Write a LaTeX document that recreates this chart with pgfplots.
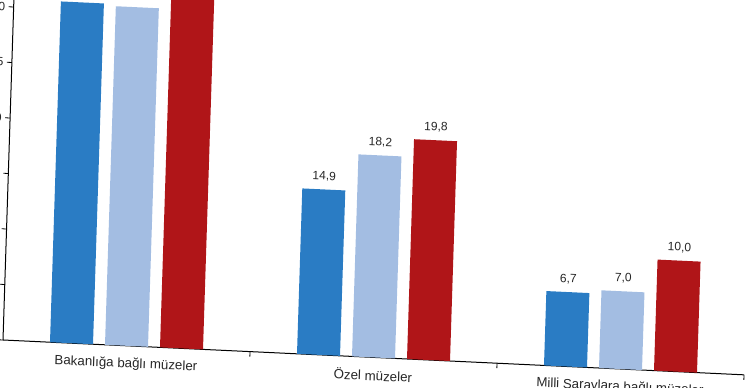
\documentclass[border=0pt]{standalone}
\usepackage{fontspec}
\setmainfont{Liberation Sans}
\usepackage{pgfplots}
\pgfplotsset{compat=1.18}
\definecolor{cA}{HTML}{2A7CC4}
\definecolor{cB}{HTML}{A3BDE2}
\definecolor{cC}{HTML}{B01518}
\begin{document}
\begin{tikzpicture}
\begin{scope}[transform canvas={cm={1,-0.047,0.032,1,(0pt,0pt)}}]
\begin{axis}[
  at={(0pt,0pt)}, anchor=south west,
  scale only axis, width=741pt, height=377.4pt,
  xmin=-0.5, xmax=2.5, ymin=0, ymax=34,
  axis x line=bottom, axis y line=left,
  axis line style={-, black, line width=1pt},
  tick align=outside, major tick length=5pt,
  tick style={black, line width=0.8pt},
  xtick={0.5,1.5,2.5}, xticklabels={},
  extra x ticks={0,1,2},
  extra x tick labels={Bakanlığa bağlı müzeler, Özel müzeler, Milli Saraylara bağlı müzeler},
  extra x tick style={major tick length=0pt, grid=none, xticklabel style={yshift=-8.5pt, font=\fontsize{13.3}{15}\selectfont}},
  ytick={0,5,...,30},
  /pgf/number format/assume math mode=true,
  ticklabel style={font=\fontsize{12}{14}\selectfont, text=black!85},
  ybar=12pt, bar width=43pt,
  nodes near coords,
  nodes near coords style={font=\fontsize{12}{14}\selectfont, text=black!85, yshift=4.5pt,
    /pgf/number format/.cd, fixed, fixed zerofill, precision=1, use comma, assume math mode=true},
]
\addplot[fill=cA, draw=none] coordinates {(0,30.7) (1,14.9) (2,6.7)};
\addplot[fill=cB, draw=none] coordinates {(0,30.5) (1,18.2) (2,7.0)};
\addplot[fill=cC, draw=none] coordinates {(0,34.0) (1,19.8) (2,10.0)};
\end{axis}
\end{scope}
\pgfresetboundingbox
\useasboundingbox (-3pt,-48pt) rectangle (744pt,340pt);
\end{tikzpicture}
\end{document}
